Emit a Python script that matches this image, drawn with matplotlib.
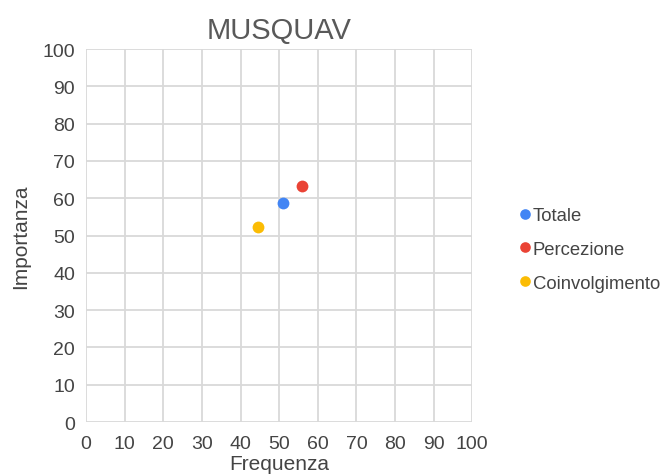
import matplotlib
matplotlib.use("Agg")
import matplotlib.pyplot as plt

series = ["Totale", "Percezione", "Coinvolgimento"]
frequenza = [50.9, 56.0, 44.5]
importanza = [58.7, 63.2, 52.3]
colors = ["#4285F4", "#EA4335", "#FBBC04"]
ticks = list(range(0, 101, 10))

plt.rcParams["font.family"] = ["Liberation Sans", "DejaVu Sans"]

fig = plt.figure(figsize=(6.67, 4.77), dpi=100)
ax = fig.add_axes([0.129, 0.113, 0.579, 0.782])

for name, x, y, c in zip(series, frequenza, importanza, colors):
    ax.plot([x], [y], "o", color=c, markersize=8.5, label=name, zorder=3,
            markeredgewidth=0, clip_on=False)

ax.set_xlim(0, 100)
ax.set_ylim(0, 100)
ax.set_xticks(ticks)
ax.set_yticks(ticks)
ax.grid(True, color="#d9d9d9", linewidth=1.3)
ax.set_axisbelow(True)
for s in ax.spines.values():
    s.set_visible(False)
ax.tick_params(length=0, labelsize=14, labelcolor="#444444")
ax.tick_params(axis="x", pad=9)
ax.tick_params(axis="y", pad=8)

ax.set_xlabel("Frequenza", fontsize=15, color="#444444", labelpad=2)
ax.set_ylabel("Importanza", fontsize=15, color="#444444", labelpad=9)
ax.set_title("MUSQUAV", fontsize=21, color="#595959", pad=8)

fig.legend(loc="center left", bbox_to_anchor=(0.749, 0.475), frameon=False,
           fontsize=13.3, handletextpad=-0.1, labelspacing=0.9, markerscale=0.9,
           handlelength=1.0, labelcolor="#444444")

fig.savefig("out.png", dpi=100)
